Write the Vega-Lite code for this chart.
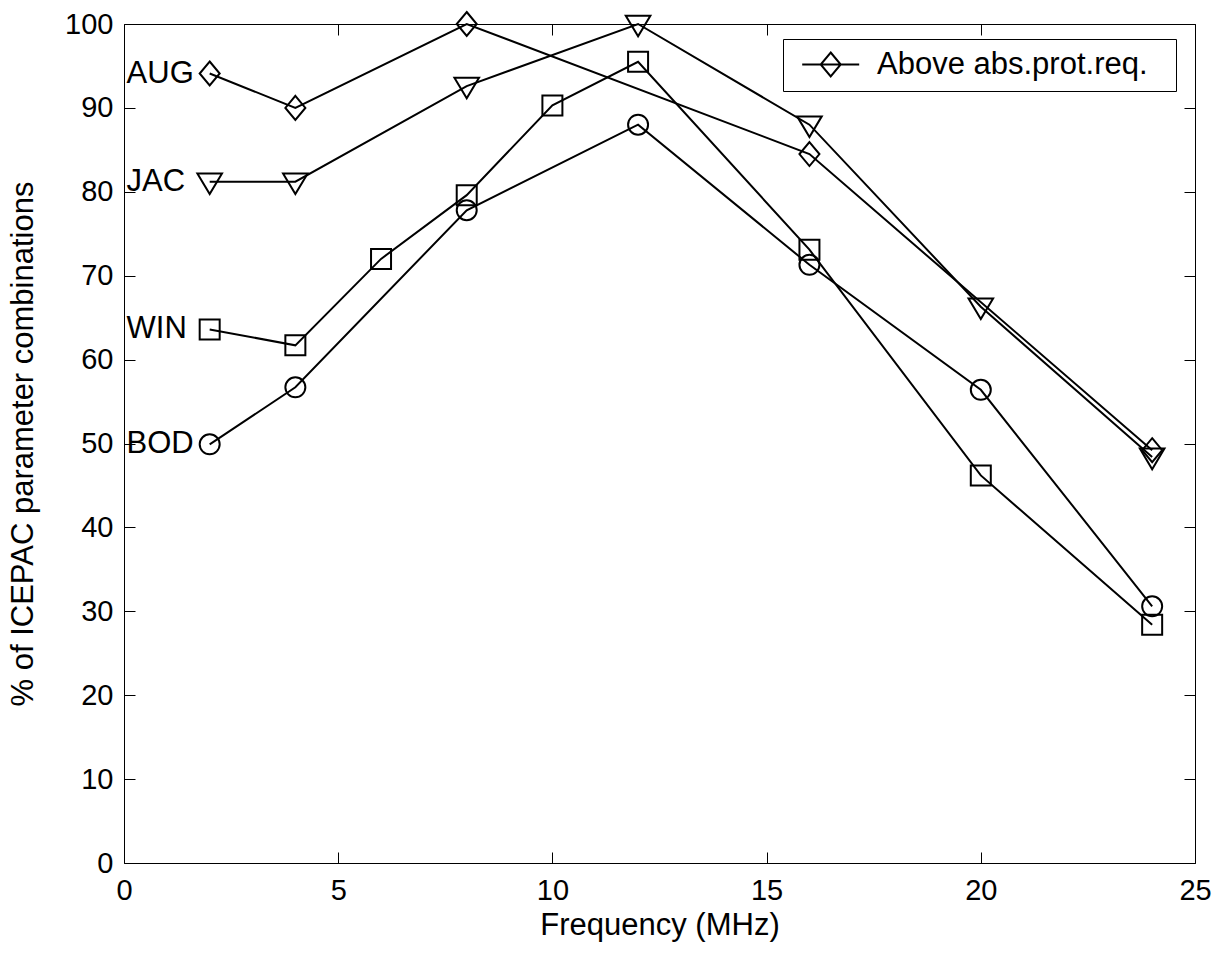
{
  "$schema": "https://vega.github.io/schema/vega-lite/v6.json",
  "width": 1071,
  "height": 839,
  "autosize": {"type": "none"},
  "padding": {"left": 124, "top": 24, "right": 30, "bottom": 91},
  "background": "white",
  "config": {
    "font": "Liberation Sans",
    "view": {"stroke": "black", "strokeWidth": 1},
    "axis": {
      "grid": false,
      "domain": false,
      "ticks": true,
      "offset": -11,
      "tickColor": "black",
      "tickOpacity": 1,
      "tickWidth": 1,
      "tickSize": 11,
      "labelColor": "black",
      "labelFont": "Liberation Sans",
      "labelFontSize": 29,
      "labelFlush": false,
      "labelOverlap": false,
      "titleFont": "Liberation Sans",
      "titleFontSize": 31,
      "titleFontWeight": "normal",
      "titleColor": "black"
    },
    "point": {"filled": false, "color": "black", "strokeWidth": 2, "size": 400, "opacity": 1}
  },
  "datasets": {
    "series": [
      {"series": "AUG", "freq": 2, "pct": 94.1},
      {"series": "AUG", "freq": 4, "pct": 90.0},
      {"series": "AUG", "freq": 8, "pct": 100},
      {"series": "AUG", "freq": 16, "pct": 84.5},
      {"series": "AUG", "freq": 24, "pct": 49.2},
      {"series": "JAC", "freq": 2, "pct": 81.2},
      {"series": "JAC", "freq": 4, "pct": 81.2},
      {"series": "JAC", "freq": 8, "pct": 92.6},
      {"series": "JAC", "freq": 12, "pct": 100},
      {"series": "JAC", "freq": 16, "pct": 88.0},
      {"series": "JAC", "freq": 20, "pct": 66.3},
      {"series": "JAC", "freq": 24, "pct": 48.4},
      {"series": "WIN", "freq": 2, "pct": 63.6},
      {"series": "WIN", "freq": 4, "pct": 61.7},
      {"series": "WIN", "freq": 6, "pct": 72.0},
      {"series": "WIN", "freq": 8, "pct": 79.6},
      {"series": "WIN", "freq": 10, "pct": 90.3},
      {"series": "WIN", "freq": 12, "pct": 95.5},
      {"series": "WIN", "freq": 16, "pct": 73.1},
      {"series": "WIN", "freq": 20, "pct": 46.2},
      {"series": "WIN", "freq": 24, "pct": 28.4},
      {"series": "BOD", "freq": 2, "pct": 49.9},
      {"series": "BOD", "freq": 4, "pct": 56.7},
      {"series": "BOD", "freq": 8, "pct": 77.8},
      {"series": "BOD", "freq": 12, "pct": 88.0},
      {"series": "BOD", "freq": 16, "pct": 71.3},
      {"series": "BOD", "freq": 20, "pct": 56.4},
      {"series": "BOD", "freq": 24, "pct": 30.6}
    ],
    "labels": [
      {"label": "AUG", "pct": 94.1},
      {"label": "JAC", "pct": 81.2},
      {"label": "WIN", "pct": 63.6},
      {"label": "BOD", "pct": 49.9}
    ]
  },
  "layer": [
    {
      "data": {"name": "series"},
      "mark": {"type": "line", "strokeWidth": 2},
      "encoding": {
        "x": {
          "field": "freq", "type": "quantitative",
          "scale": {"domain": [0, 25], "nice": false, "zero": false},
          "axis": {"orient": "bottom", "values": [0, 5, 10, 15, 20, 25], "labelPadding": 13, "title": "Frequency (MHz)", "titlePadding": 5}
        },
        "y": {
          "field": "pct", "type": "quantitative",
          "scale": {"domain": [0, 100], "nice": false, "zero": false},
          "axis": {"orient": "left", "values": [0, 10, 20, 30, 40, 50, 60, 70, 80, 90, 100], "labelPadding": 11, "title": "% of ICEPAC parameter combinations", "titlePadding": 25}
        },
        "color": {
          "field": "series", "type": "nominal",
          "scale": {"domain": ["AUG", "JAC", "WIN", "BOD"], "range": ["black", "black", "black", "black"]},
          "legend": {
            "values": ["AUG"],
            "labelExpr": "'Above abs.prot.req.'",
            "title": "\u00a0",
            "titleOrient": "right",
            "titleFontSize": 10,
            "titlePadding": 18,
            "orient": "none",
            "legendX": 659,
            "legendY": 15,
            "strokeColor": "black",
            "fillColor": "white",
            "padding": 10,
            "labelFont": "Liberation Sans",
            "labelFontSize": 31,
            "labelColor": "black",
            "labelLimit": 500,
            "labelOffset": 30.8,
            "symbolSize": 400,
            "symbolOffset": 22.2,
            "symbolType": "M-2.85,0L2.85,0M0,-1.2L1,0L0,1.2L-1,0Z",
            "symbolStrokeWidth": 2,
            "symbolStrokeColor": "black",
            "symbolFillColor": "transparent"
          }
        },
        "detail": {"field": "series", "type": "nominal"},
        "order": {"field": "freq", "type": "quantitative"}
      }
    },
    {
      "data": {"name": "series"},
      "transform": [{"filter": "datum.series === 'AUG'"}],
      "mark": {"type": "point", "shape": "M0,-1.2L1,0L0,1.2L-1,0Z"},
      "encoding": {
        "x": {
          "field": "freq", "type": "quantitative",
          "axis": {"orient": "top", "values": [0, 5, 10, 15, 20, 25], "labels": false, "title": null}
        },
        "y": {
          "field": "pct", "type": "quantitative",
          "axis": {"orient": "right", "values": [0, 10, 20, 30, 40, 50, 60, 70, 80, 90, 100], "labels": false, "title": null}
        }
      }
    },
    {
      "data": {"name": "series"},
      "transform": [{"filter": "datum.series === 'JAC'"}],
      "mark": {"type": "point", "shape": "M-1.23,-0.83L1.23,-0.83L0,1.23Z"},
      "encoding": {
        "x": {"field": "freq", "type": "quantitative", "axis": null},
        "y": {"field": "pct", "type": "quantitative", "axis": null}
      }
    },
    {
      "data": {"name": "series"},
      "transform": [{"filter": "datum.series === 'WIN'"}],
      "mark": {"type": "point", "shape": "M-1,-1L1,-1L1,1L-1,1Z"},
      "encoding": {
        "x": {"field": "freq", "type": "quantitative", "axis": null},
        "y": {"field": "pct", "type": "quantitative", "axis": null}
      }
    },
    {
      "data": {"name": "series"},
      "transform": [{"filter": "datum.series === 'BOD'"}],
      "mark": {"type": "point", "shape": "circle"},
      "encoding": {
        "x": {"field": "freq", "type": "quantitative", "axis": null},
        "y": {"field": "pct", "type": "quantitative", "axis": null}
      }
    },
    {
      "data": {"name": "labels"},
      "mark": {"type": "text", "align": "left", "baseline": "middle", "fontSize": 31, "font": "Liberation Sans", "color": "black"},
      "encoding": {
        "x": {"datum": 0.06, "type": "quantitative", "axis": null},
        "y": {"field": "pct", "type": "quantitative", "axis": null},
        "text": {"field": "label"}
      }
    }
  ],
  "resolve": {"axis": {"x": "independent", "y": "independent"}}
}
